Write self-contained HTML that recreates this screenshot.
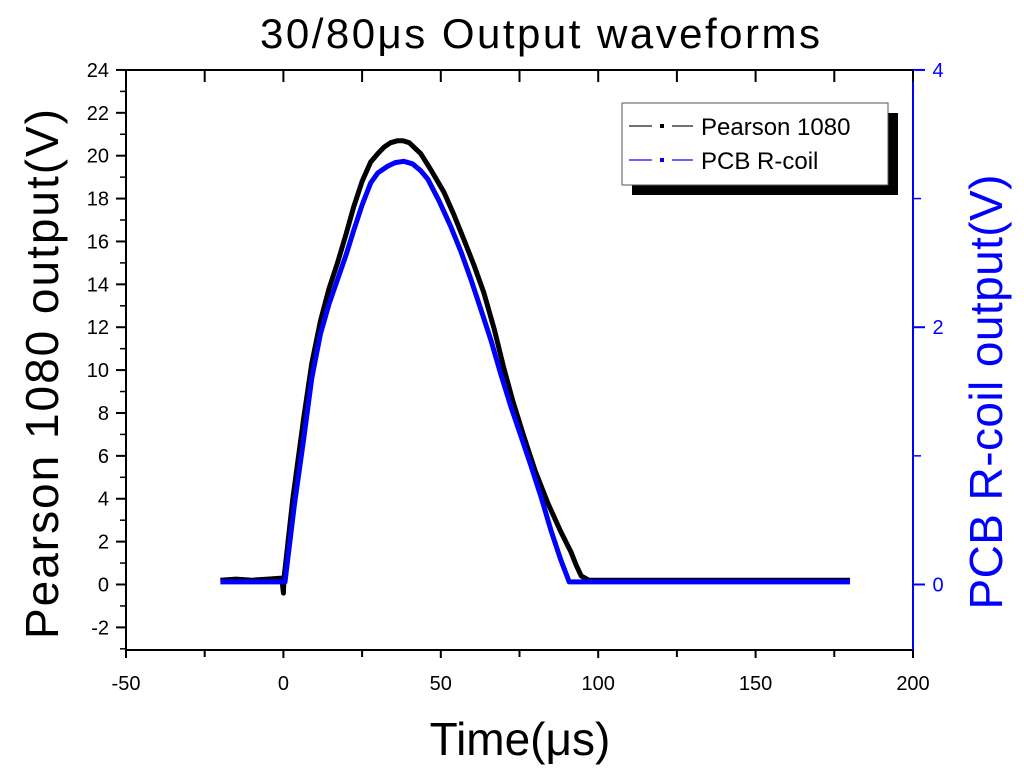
<!DOCTYPE html>
<html><head><meta charset="utf-8"><style>
body{margin:0;background:#fff;width:1024px;height:777px;overflow:hidden}
svg{font-family:"Liberation Sans",Arial,sans-serif}
</style></head><body>
<svg id="c" width="1024" height="777" xmlns="http://www.w3.org/2000/svg"></svg>
<script>
const xTicks=[-50,0,50,100,150,200];
const yLeftTicks=[-2,0,2,4,6,8,10,12,14,16,18,20,22,24];
const yRightTicks=[0,2,4];
const pearsonT=[-20,-15,-10,-5,-0.5,0,0.2,3,6.4,9,11.8,14.5,17.2,20,22.3,25,27.7,30,32,34,36.3,38,40,43.6,47,51,54,57.3,60.5,63.7,67,70,73,76.4,80,84,88,91.4,93,94.6,97,110,130,150,165,180];
const pearsonV=[0.2,0.25,0.2,0.25,0.3,-0.4,0.3,4.0,7.7,10.3,12.3,13.8,15.0,16.4,17.6,18.8,19.7,20.1,20.4,20.6,20.7,20.7,20.6,20.1,19.3,18.3,17.3,16.1,14.9,13.6,11.9,10.1,8.5,6.9,5.3,3.8,2.5,1.5,0.9,0.4,0.2,0.2,0.2,0.2,0.2,0.2];
const pcbT=[-20,-10,0,0.5,3.5,6.4,9,11.8,14.5,17.2,20,22.3,25,27.7,30,33,35.5,38.2,41,43.5,45.9,49.5,53.2,56.5,59.6,62.7,65.9,69,72.3,75.5,78.7,82,85,88,90.8,93,120,150,180];
const pcbV=[0.02,0.02,0.02,0.02,0.62,1.12,1.6,1.95,2.18,2.37,2.57,2.75,2.95,3.12,3.2,3.25,3.28,3.29,3.27,3.22,3.15,2.98,2.78,2.58,2.37,2.14,1.9,1.64,1.38,1.15,0.92,0.67,0.42,0.2,0.02,0.02,0.02,0.02,0.02];
const NS='http://www.w3.org/2000/svg',svg=document.getElementById('c');
const X0=126,X1=913,Yb=650,Yt=70;
const x=t=>X0+(t+50)/250*(X1-X0);
const yL=v=>584.5-v*21.44;
const yR=v=>584.5-v*128.64;
function mk(tag,a,parent){const e=document.createElementNS(NS,tag);for(const k in a)e.setAttribute(k,a[k]);(parent||svg).appendChild(e);return e;}
function txt(s,a){const e=mk('text',a);e.textContent=s;return e;}
let d2='';pearsonT.forEach((t,i)=>d2+=(i?'L':'M')+x(t).toFixed(1)+','+yL(pearsonV[i]).toFixed(1));
let d='';pcbT.forEach((t,i)=>d+=(i?'L':'M')+x(t).toFixed(1)+','+yR(pcbV[i]).toFixed(1));
const pl=mk('path',{d:d2,fill:'none',stroke:'#000','stroke-width':5,'stroke-linejoin':'round'});

const bl=mk('path',{d:d,fill:'none',stroke:'#0000ff','stroke-width':5,'stroke-linejoin':'round'});

const ax=mk('g',{});
mk('line',{x1:X0,y1:Yb,x2:X1,y2:Yb,stroke:'#000','stroke-width':2},ax);
mk('line',{x1:X0,y1:Yt,x2:X1,y2:Yt,stroke:'#000','stroke-width':2},ax);
mk('line',{x1:X0,y1:Yb,x2:X0,y2:Yt,stroke:'#000','stroke-width':2},ax);
mk('line',{x1:X1,y1:Yb,x2:X1,y2:Yt,stroke:'#0000ff','stroke-width':2},ax);
xTicks.forEach((t,i)=>{mk('line',{x1:x(t),y1:Yb,x2:x(t),y2:Yb+8,stroke:'#000','stroke-width':2},ax);
 mk('line',{x1:x(t),y1:Yt,x2:x(t),y2:Yt+12,stroke:'#000','stroke-width':2},ax);
 if(i<xTicks.length-1){const m=t+25;mk('line',{x1:x(m),y1:Yb,x2:x(m),y2:Yb+7,stroke:'#000','stroke-width':2},ax);
 mk('line',{x1:x(m),y1:Yt,x2:x(m),y2:Yt+12,stroke:'#000','stroke-width':2},ax);}
 const e=txt(String(t),{x:x(t),y:Yb+40,'font-size':20,'text-anchor':'middle'});});
yLeftTicks.forEach(v=>{mk('line',{x1:X0,y1:yL(v),x2:X0-10,y2:yL(v),stroke:'#000','stroke-width':2},ax);
 if(v<24)mk('line',{x1:X0,y1:yL(v+1),x2:X0-6,y2:yL(v+1),stroke:'#000','stroke-width':1.5},ax);
 const e=txt(String(v),{x:X0-17,y:yL(v)+7,'font-size':20,'text-anchor':'end'});});
mk('line',{x1:X0,y1:yL(-3),x2:X0-6,y2:yL(-3),stroke:'#000','stroke-width':1.5},ax);
yRightTicks.forEach(v=>{mk('line',{x1:X1,y1:yR(v),x2:X1+12,y2:yR(v),stroke:'#0000ff','stroke-width':2},ax);
 if(v<4)mk('line',{x1:X1,y1:yR(v+1),x2:X1+8,y2:yR(v+1),stroke:'#0000ff','stroke-width':1.5},ax);
 const e=txt(String(v),{x:X1+25,y:yR(v)+7,'font-size':20,'text-anchor':'middle',fill:'#0000ff'});});
let e=txt('30/80\u03bcs Output waveforms',{x:540,y:48,'font-size':42,'text-anchor':'middle',textLength:560});
e=txt('Time(\u03bcs)',{x:520,y:755,'font-size':46,'text-anchor':'middle'});
e=txt('Pearson 1080 output(V)',{x:0,y:0,'font-size':46,'text-anchor':'middle',textLength:530,transform:'translate(58,374) rotate(-90)'});
e=txt('PCB R-coil output(V)',{x:0,y:0,'font-size':46,'text-anchor':'middle',fill:'#0000ff',textLength:435,transform:'translate(1002,392) rotate(-90)'});
const lg=mk('g',{});
mk('rect',{x:632,y:113,width:266,height:82,fill:'#000'},lg);
mk('rect',{x:622,y:103,width:266,height:82,fill:'#fff',stroke:'#555','stroke-width':1},lg);
[['Pearson 1080','#444','#000',135],['PCB R-coil','#3333ff','#0000ff',169]].forEach(r=>{
 const g=mk('g',{},lg);
 mk('line',{x1:629,y1:r[3]-9,x2:652,y2:r[3]-9,stroke:r[1],'stroke-width':1.5},g);
 mk('line',{x1:672,y1:r[3]-9,x2:693,y2:r[3]-9,stroke:r[1],'stroke-width':1.5},g);
 mk('rect',{x:660,y:r[3]-11,width:4,height:4,fill:r[2]},g);
 const t=mk('text',{x:701,y:r[3],'font-size':24},g);t.textContent=r[0];});
</script>
</body></html>
